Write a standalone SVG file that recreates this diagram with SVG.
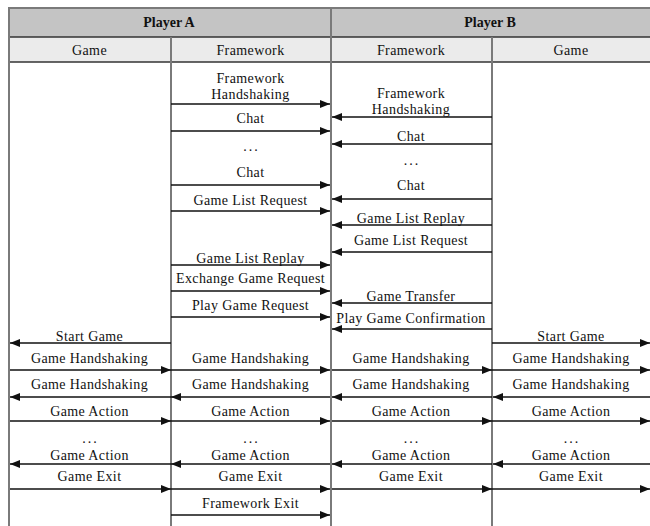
<svg xmlns="http://www.w3.org/2000/svg" width="650" height="526" viewBox="0 0 650 526">
<style>
text{font-family:"Liberation Serif","DejaVu Serif","Times New Roman",serif;font-size:14px;letter-spacing:0.4px;fill:#111;text-anchor:middle}
.hd{font-weight:bold;letter-spacing:0}
.dots{letter-spacing:2px}
.grid{stroke:#7a7a7a;stroke-width:2;fill:none}
.hl{stroke:#333;stroke-width:1.5}
.r{stroke:#111;stroke-width:1.4;marker-end:url(#ah)}
</style>
<defs>
<marker id="ah" viewBox="0 0 10 8" refX="10" refY="4" markerWidth="10" markerHeight="8" markerUnits="userSpaceOnUse" orient="auto">
<path d="M0,0 L10,4 L0,8 Z" fill="#111"/>
</marker>
</defs>
<rect width="650" height="526" fill="#fff"/>
<g id="header">
<rect x="8" y="8" width="642" height="29" fill="#c4c4c4"/>
<rect x="8" y="37" width="642" height="25" fill="#ebebeb"/>
<line class="grid" x1="8" y1="8" x2="650" y2="8" stroke="#999"/>
<line class="hl" x1="8" y1="37" x2="650" y2="37"/>
<line class="hl" x1="8" y1="62" x2="650" y2="62" stroke="#555" stroke-width="2"/>
<text class="hd" x="169" y="27" font-family="Liberation Serif, DejaVu Serif, serif">Player A</text>
<text class="hd" x="490" y="27" font-family="Liberation Serif, DejaVu Serif, serif">Player B</text>
<text x="89.5" y="55">Game</text>
<text x="250.5" y="55">Framework</text>
<text x="411" y="55">Framework</text>
<text x="571" y="55">Game</text>
</g>
<g id="columns">
<line class="grid" x1="9" y1="8" x2="9" y2="526"/>
<line class="grid" x1="171" y1="37" x2="171" y2="526"/>
<line class="grid" x1="331" y1="8" x2="331" y2="526"/>
<line class="grid" x1="492" y1="37" x2="492" y2="526"/>
</g>
<g id="connectors">
<line class="r" x1="171" y1="104" x2="330" y2="104"/>
<line class="r" x1="171" y1="131" x2="330" y2="131"/>
<line class="r" x1="171" y1="185" x2="330" y2="185"/>
<line class="r" x1="171" y1="211" x2="330" y2="211"/>
<line class="r" x1="171" y1="265" x2="330" y2="265"/>
<line class="r" x1="171" y1="291" x2="330" y2="291"/>
<line class="r" x1="171" y1="317" x2="330" y2="317"/>
<line class="r" x1="171" y1="370" x2="330" y2="370"/>
<line class="r" x1="330" y1="397" x2="171" y2="397"/>
<line class="r" x1="171" y1="421" x2="330" y2="421"/>
<line class="r" x1="330" y1="464" x2="171" y2="464"/>
<line class="r" x1="171" y1="489" x2="330" y2="489"/>
<line class="r" x1="171" y1="515" x2="330" y2="515"/>
<line class="r" x1="171" y1="343" x2="10" y2="343"/>
<line class="r" x1="10" y1="370" x2="171" y2="370"/>
<line class="r" x1="171" y1="397" x2="10" y2="397"/>
<line class="r" x1="10" y1="421" x2="171" y2="421"/>
<line class="r" x1="171" y1="464" x2="10" y2="464"/>
<line class="r" x1="10" y1="489" x2="171" y2="489"/>
<line class="r" x1="492" y1="117" x2="332" y2="117"/>
<line class="r" x1="492" y1="144" x2="332" y2="144"/>
<line class="r" x1="492" y1="199" x2="332" y2="199"/>
<line class="r" x1="492" y1="225" x2="332" y2="225"/>
<line class="r" x1="492" y1="252" x2="332" y2="252"/>
<line class="r" x1="492" y1="303" x2="332" y2="303"/>
<line class="r" x1="492" y1="329" x2="332" y2="329"/>
<line class="r" x1="332" y1="370" x2="492" y2="370"/>
<line class="r" x1="492" y1="397" x2="332" y2="397"/>
<line class="r" x1="332" y1="421" x2="492" y2="421"/>
<line class="r" x1="492" y1="464" x2="332" y2="464"/>
<line class="r" x1="332" y1="489" x2="492" y2="489"/>
<line class="r" x1="492" y1="343" x2="650" y2="343"/>
<line class="r" x1="492" y1="370" x2="650" y2="370"/>
<line class="r" x1="650" y1="397" x2="493" y2="397"/>
<line class="r" x1="492" y1="421" x2="650" y2="421"/>
<line class="r" x1="650" y1="464" x2="493" y2="464"/>
<line class="r" x1="492" y1="489" x2="650" y2="489"/>
</g>
<g id="labels-a-framework">
<text x="250.5" y="83">Framework</text>
<text x="250.5" y="99">Handshaking</text>
<text x="250.5" y="123">Chat</text>
<text class="dots" x="251.5" y="151">...</text>
<text x="250.5" y="177">Chat</text>
<text x="250.5" y="205">Game List Request</text>
<text x="250.5" y="263">Game List Replay</text>
<text x="250.5" y="283">Exchange Game Request</text>
<text x="250.5" y="310">Play Game Request</text>
<text x="250.5" y="363">Game Handshaking</text>
<text x="250.5" y="389">Game Handshaking</text>
<text x="250.5" y="416">Game Action</text>
<text class="dots" x="251.5" y="443">...</text>
<text x="250.5" y="460">Game Action</text>
<text x="250.5" y="481">Game Exit</text>
<text x="250.5" y="508">Framework Exit</text>
</g>
<g id="labels-a-game">
<text x="89.5" y="341">Start Game</text>
<text x="89.5" y="363">Game Handshaking</text>
<text x="89.5" y="389">Game Handshaking</text>
<text x="89.5" y="416">Game Action</text>
<text class="dots" x="90.5" y="443">...</text>
<text x="89.5" y="460">Game Action</text>
<text x="89.5" y="481">Game Exit</text>
</g>
<g id="labels-b-framework">
<text x="411" y="98">Framework</text>
<text x="411" y="114">Handshaking</text>
<text x="411" y="141">Chat</text>
<text class="dots" x="412" y="165">...</text>
<text x="411" y="190">Chat</text>
<text x="411" y="223">Game List Replay</text>
<text x="411" y="245">Game List Request</text>
<text x="411" y="301">Game Transfer</text>
<text x="411" y="323">Play Game Confirmation</text>
<text x="411" y="363">Game Handshaking</text>
<text x="411" y="389">Game Handshaking</text>
<text x="411" y="416">Game Action</text>
<text class="dots" x="412" y="443">...</text>
<text x="411" y="460">Game Action</text>
<text x="411" y="481">Game Exit</text>
</g>
<g id="labels-b-game">
<text x="571" y="341">Start Game</text>
<text x="571" y="363">Game Handshaking</text>
<text x="571" y="389">Game Handshaking</text>
<text x="571" y="416">Game Action</text>
<text class="dots" x="572" y="443">...</text>
<text x="571" y="460">Game Action</text>
<text x="571" y="481">Game Exit</text>
</g>
</svg>
